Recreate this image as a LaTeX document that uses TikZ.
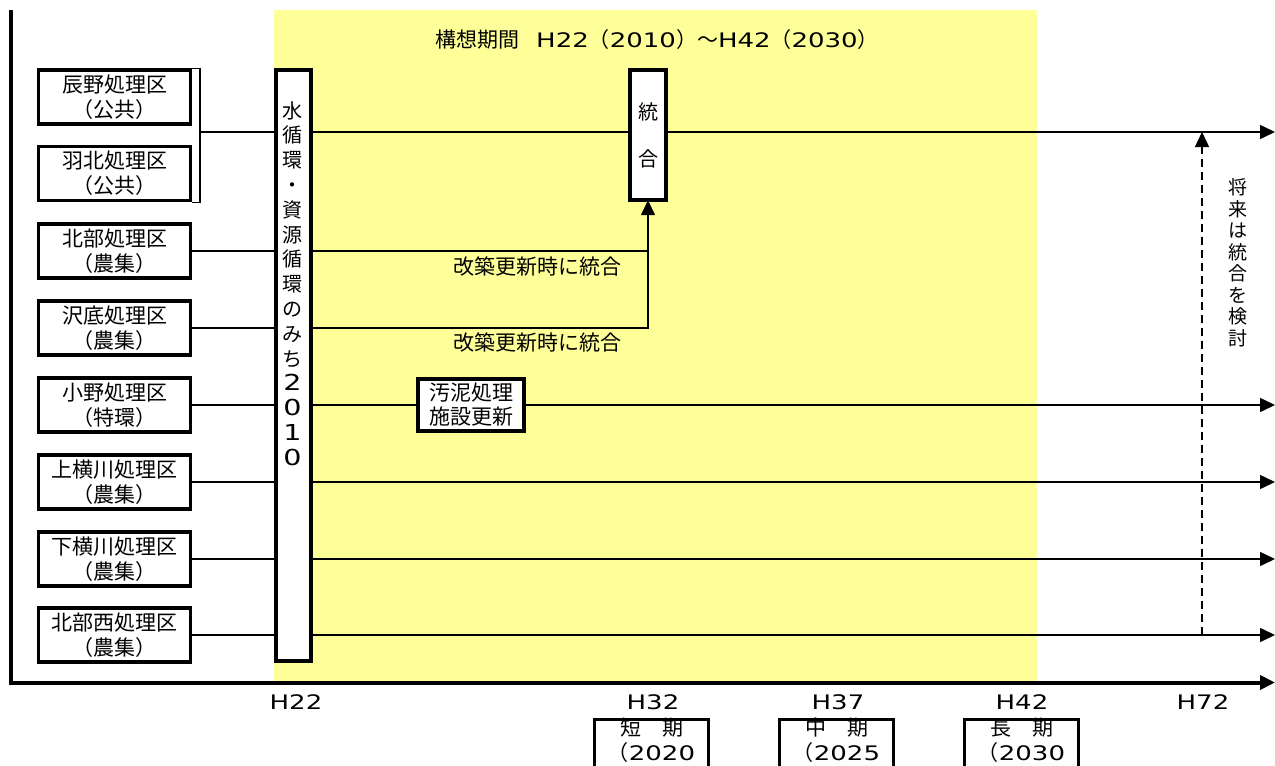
\documentclass[tikz,border=0pt]{standalone}
\usepackage{fontspec}
\setmainfont{Noto Sans CJK JP}
\newfontfamily\latinwide[FakeStretch=1.3]{DejaVu Sans}
\usetikzlibrary{arrows.meta}
\definecolor{bandyellow}{RGB}{255,255,153}
\newcommand{\lw}[1]{{\latinwide\fontsize{20}{24}\selectfont #1}}
\newcommand{\bp}[1]{{\fontsize{21}{24}\selectfont #1}}
\begin{document}
\begin{tikzpicture}[x=1pt,y=-1pt,
  thinline/.style={line width=1.5pt},
  box/.style={draw, line width=3.5pt, fill=white, inner sep=0pt},
  areabox/.style={box, minimum width=152, minimum height=54,
    font=\fontsize{21}{25}\selectfont, align=center},
  lbl/.style={font=\fontsize{21}{25}\selectfont, align=center, inner sep=0pt},
  yearlbl/.style={font=\latinwide\fontsize{20}{24}\selectfont, inner sep=0pt},
  tip/.style={-{Triangle[length=15pt,width=14pt]}},
  dashline/.style={line width=1.5pt, dash pattern=on 8pt off 5pt},
]
\useasboundingbox (0,0) rectangle (1275,766);
\clip (0,0) rectangle (1275,766);
% yellow planning period band
\fill[bandyellow] (274,10) rectangle (1037,683);

% treatment area boxes
\node[areabox] (b1) at (114.5,97) {辰野処理区\\（公共）};
\node[areabox] (b2) at (114.5,173.5) {羽北処理区\\（公共）};
\node[areabox] (b3) at (114.5,251) {北部処理区\\（農集）};
\node[areabox] (b4) at (114.5,328) {沢底処理区\\（農集）};
\node[areabox] (b5) at (114.5,405) {小野処理区\\（特環）};
\node[areabox] (b6) at (114.5,482) {上横川処理区\\（農集）};
\node[areabox] (b7) at (114.5,559) {下横川処理区\\（農集）};
\node[areabox] (b8) at (114.5,635) {北部西処理区\\（農集）};

% end coordinates
\coordinate (e1) at (1275,132);
\coordinate (e5) at (1275,405);
\coordinate (e6) at (1275,482);
\coordinate (e7) at (1275,559);
\coordinate (e8) at (1275,635);
\coordinate (br) at (200,132);

% anchors for the boxes drawn on top later
\path (293.5,365.5) node[minimum width=35, minimum height=591, inner sep=0pt] (v) {};
\path (648,135) node[minimum width=36, minimum height=130, inner sep=0pt] (tong) {};
\path (471,405) node[minimum width=106, minimum height=52, inner sep=0pt] (sludge) {};

% bracket and lines into the plan box
\draw[thinline] (b1.north east) -- (br |- b1.north east) -- (br |- b2.south east) -- (b2.south east);
\draw[thinline] (br) -- (br -| v.west);
\foreach \b in {b3,b4,b5,b6,b7,b8}
  \draw[thinline] (\b.east) -- (\b.east -| v.west);

% lines to the right
\draw[thinline] (v.east |- e1) -- (tong.west |- e1);
\draw[thinline, tip] (tong.east |- e1) -- (e1);
\draw[thinline] (v.east |- b3.east) -- (tong.south |- b3.east);
\draw[thinline, tip] (v.east |- b4.east) -- (tong.south |- b4.east) -- (tong.south);
\draw[thinline] (v.east |- b5.east) -- (sludge.west);
\draw[thinline, tip] (sludge.east) -- (e5);
\draw[thinline, tip] (v.east |- b6.east) -- (e6);
\draw[thinline, tip] (v.east |- b7.east) -- (e7);
\draw[thinline, tip] (v.east |- b8.east) -- (e8);

% dashed future-integration arrow
\coordinate (dbot) at (1202,635);
\coordinate (dtop) at (1202,132);
\draw[dashline, tip] (dbot) -- (dtop);
\node[font=\fontsize{19}{21.5}\selectfont, align=center, inner sep=0pt] (future) at (1238,263)
  {将\\来\\は\\統\\合\\を\\検\\討};

% boxes on top
\node[box, minimum width=35, minimum height=591] (vbox) at (v) {};
\node[font=\fontsize{20}{24.8}\selectfont, align=center, inner sep=0pt] (vtext) at (292.5,283.5)
  {水\\循\\環\\・\\資\\源\\循\\環\\の\\み\\ち\\{\latinwide\fontsize{22}{24.8}\selectfont 2}\\{\latinwide\fontsize{22}{24.8}\selectfont 0}\\{\latinwide\fontsize{22}{24.8}\selectfont 1}\\{\latinwide\fontsize{22}{24.8}\selectfont 0}};
\node[box, minimum width=36, minimum height=130, font=\fontsize{20}{47}\selectfont, align=center] (tongbox) at (tong) {統\\合};
\node[box, minimum width=106, minimum height=52, font=\fontsize{21}{24}\selectfont, align=center] (sludgebox) at (sludge) {汚泥処理\\施設更新};

% labels
\node[lbl] (l1) at (537,267) {改築更新時に統合};
\node[lbl] (l2) at (537,343) {改築更新時に統合};
\node[inner sep=0pt] (title) at (657,40)
  {{\fontsize{21}{25}\selectfont 構想期間}{\fontsize{17}{20}\selectfont　\lw{H22}\bp{（}\lw{2010}\bp{）}\bp{～}\lw{H42}\bp{（}\lw{2030}\bp{）}}};

% axes
\coordinate (axtop) at (10.5,10);
\coordinate (axo) at (10.5,682.5);
\coordinate (axend) at (1275,682.5);
\draw[line width=4pt, tip] (axtop) -- (axo) -- (axend);

% axis labels
\node[yearlbl] (h22) at (296,702) {H22};
\node[yearlbl] (h32) at (653,702) {H32};
\node[yearlbl] (h37) at (838,702) {H37};
\node[yearlbl] (h42) at (1022,702) {H42};
\node[yearlbl] (h72) at (1203,702) {H72};

% term boxes (cut by the lower edge)
\node[draw, line width=3pt, minimum width=114, minimum height=60, anchor=north] (s1) at (651.5,717.5) {};
\node[draw, line width=3pt, minimum width=114, minimum height=60, anchor=north] (s2) at (836.5,717.5) {};
\node[draw, line width=3pt, minimum width=114, minimum height=60, anchor=north] (s3) at (1021.5,717.5) {};
\node[lbl] (t1) at (651.5,728) {短　期};
\node[inner sep=0pt] (y1) at (651.5,753) {\bp{（}\lw{2020}};
\node[lbl] (t2) at (836.5,728) {中　期};
\node[inner sep=0pt] (y2) at (836.5,753) {\bp{（}\lw{2025}};
\node[lbl] (t3) at (1021.5,728) {長　期};
\node[inner sep=0pt] (y3) at (1021.5,753) {\bp{（}\lw{2030}};
\end{tikzpicture}
\end{document}
